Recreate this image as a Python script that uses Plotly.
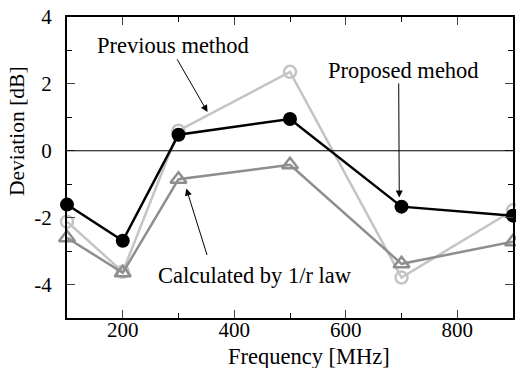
import plotly.graph_objects as go

freq = [100, 200, 300, 500, 700, 900]
proposed = [-1.61, -2.69, 0.48, 0.95, -1.67, -1.94]
previous = [-2.12, -3.62, 0.6, 2.36, -3.79, -1.78]
inv_r = [-2.6, -3.65, -0.85, -0.42, -3.38, -2.72]

x_ticks = [200, 400, 600, 800]
y_ticks = [-4, -2, 0, 2, 4]
y_ticktext = ["-4", "-2", "0", "2", "4"]

font = "Liberation Serif"
L, R, T, B = 67, 3, 17, 50
W, H = 516, 368
pw, ph = W - L - R, H - T - B

fig = go.Figure()
fig.add_trace(go.Scatter(x=freq, y=previous, mode="lines+markers", cliponaxis=False,
                         line=dict(color="#c4c4c4", width=2.5),
                         marker=dict(symbol="circle-open", size=12, color="#c4c4c4", line=dict(width=2.5))))
fig.add_trace(go.Scatter(x=freq, y=inv_r, mode="lines+markers", cliponaxis=False,
                         line=dict(color="#8e8e8e", width=2.5),
                         marker=dict(symbol="triangle-up-open", size=14, color="#8e8e8e", line=dict(width=2.5))))
fig.add_trace(go.Scatter(x=freq, y=proposed, mode="lines+markers", cliponaxis=False,
                         line=dict(color="black", width=2.5),
                         marker=dict(symbol="circle", size=14, color="black")))

fig.add_hline(y=0, line=dict(color="black", width=1))


def label(text, px, py, size=22.5, angle=0):
    fig.add_annotation(text=text, xref="paper", yref="paper",
                       x=(px - L) / pw, y=(H - B - py) / ph, showarrow=False,
                       xanchor="center", yanchor="middle",
                       font=dict(family=font, size=size, color="black"), textangle=angle)


def arrow(x0, y0, x1, y1):
    fig.add_annotation(x=x1, y=y1, xref="x", yref="y",
                       ax=x0, ay=y0, axref="x", ayref="y",
                       text="", showarrow=True, arrowhead=2, arrowsize=1.4,
                       arrowwidth=1, arrowcolor="black")


label("Previous method", 173, 46)
label("Proposed mehod", 403, 70)
label("Calculated by 1/r law", 255, 275)
label("Frequency [MHz]", 309, 356, size=22.5)
label("Deviation [dB]", 17, 131, size=21.5, angle=-90)

arrow(296, 2.78, 352, 1.16)
arrow(695, 2.06, 696, -1.40)
arrow(352, -3.16, 314, -1.13)

fig.update_layout(
    width=W, height=H,
    margin=dict(l=L, r=R, t=T, b=B),
    paper_bgcolor="white", plot_bgcolor="white",
    showlegend=False,
    font=dict(family=font, size=21, color="black"),
)

fig.update_xaxes(range=[100, 900], tickvals=x_ticks, ticks="inside", ticklen=8,
                 showline=True, linecolor="black", linewidth=2, mirror="ticks",
                 showgrid=False, zeroline=False, automargin=False, ticklabelstandoff=-8,
                 minor=dict(tickvals=[300, 500, 700], ticks="inside", ticklen=5, tickcolor="black"),
                 tickfont=dict(size=21))
fig.update_yaxes(range=[-5, 4], tickvals=y_ticks, ticktext=y_ticktext, ticks="inside", ticklen=8,
                 showline=True, linecolor="black", linewidth=2, mirror="ticks",
                 showgrid=False, zeroline=False, automargin=False, ticklabelstandoff=9,
                 minor=dict(tickvals=[-3, -1, 1, 3], ticks="inside", ticklen=5, tickcolor="black"),
                 tickfont=dict(size=21))

fig.write_html("out.html", config={"displayModeBar": False},
               post_script="document.body.style.margin='0';")
